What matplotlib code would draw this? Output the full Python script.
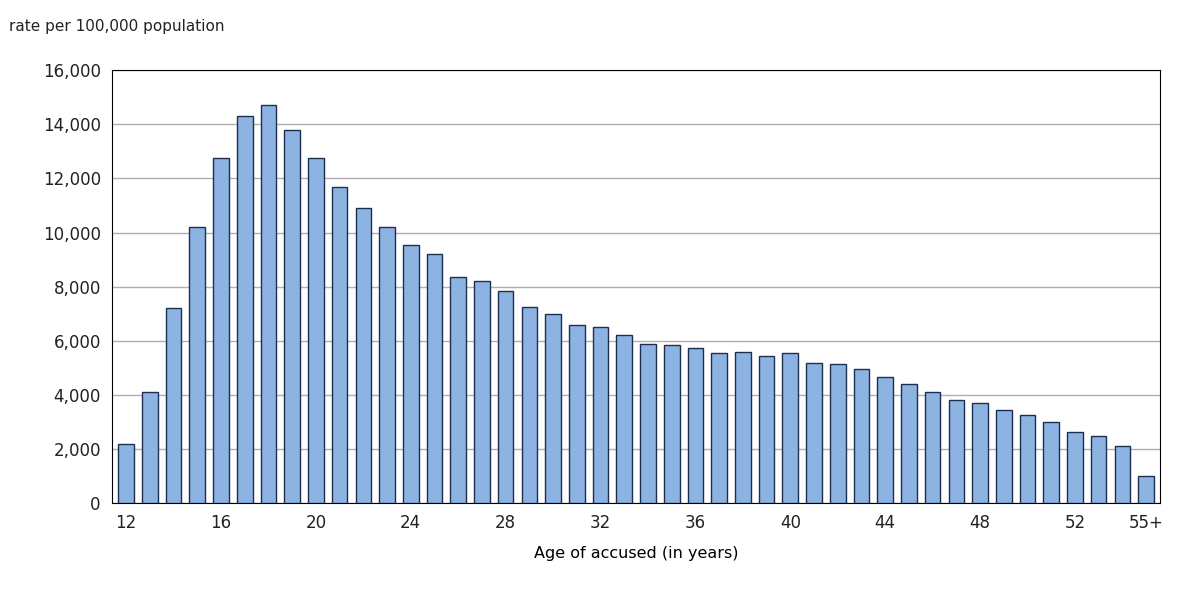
import matplotlib.pyplot as plt

ages = [str(a) for a in range(12, 55)] + ['55+']
rates = [2200, 4100, 7200, 10200, 12750, 14300, 14700, 13800, 12750, 11700,
         10900, 10200, 9550, 9200, 8350, 8200, 7850, 7250, 7000, 6600,
         6500, 6200, 5900, 5850, 5750, 5550, 5600, 5450, 5550, 5200,
         5150, 4950, 4650, 4400, 4100, 3800, 3700, 3450, 3250, 3000,
         2650, 2500, 2100, 1000]

plt.rcParams['text.color'] = '#222222'
plt.rcParams['xtick.color'] = '#222222'
plt.rcParams['ytick.color'] = '#222222'

fig = plt.figure(figsize=(11.78, 5.9), dpi=100)
ax = fig.add_axes([0.095, 0.147, 0.89, 0.734])
x = range(len(ages))
ax.bar(x, rates, width=0.66, color='#8db3e2', edgecolor='#1c2f4f', linewidth=1, zorder=3)
ax.set_xlim(-0.6, len(ages) - 0.4)
ax.set_ylim(0, 16000)
ax.set_yticks(range(0, 16001, 2000))
ax.set_yticklabels([f'{v:,}' for v in range(0, 16001, 2000)], fontsize=12)
ticks = [i for i in x if i % 4 == 0 and i < 42] + [len(ages) - 1]
ax.set_xticks(ticks)
ax.set_xticklabels([ages[i] for i in ticks], fontsize=12)
ax.tick_params(axis='x', length=0, pad=8)
ax.tick_params(axis='y', length=0, pad=8)
ax.grid(axis='y', color='#b0b0b0', linewidth=1, zorder=0)
for s in ax.spines.values():
    s.set_color('black')
ax.set_xlabel('Age of accused (in years)', fontsize=11.5, labelpad=10)
fig.text(0.008, 0.955, 'rate per 100,000 population', fontsize=11, va='center')
fig.savefig('out.png', dpi=100)
